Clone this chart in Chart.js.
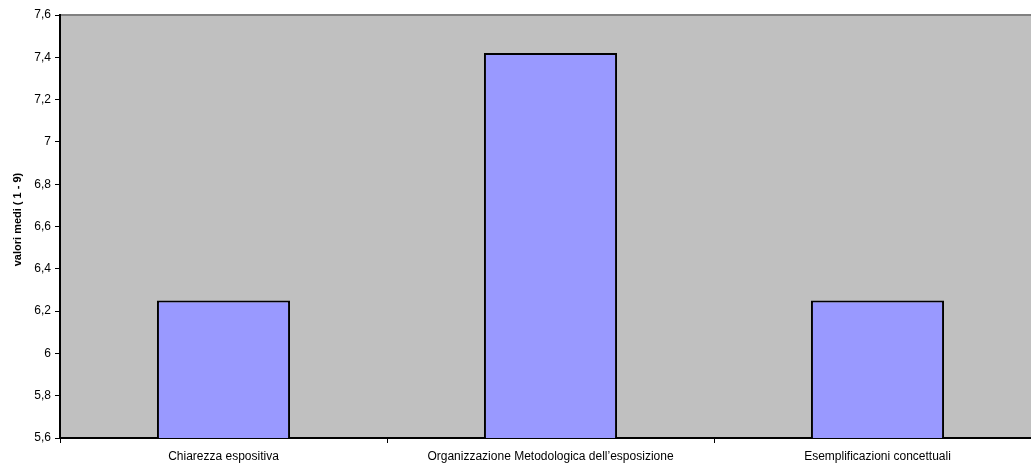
<!DOCTYPE html>
<html><head><meta charset="utf-8">
<script src="https://cdn.jsdelivr.net/npm/chart.js@4"></script>
<style>html,body{margin:0;padding:0;overflow:hidden;background:#fff;width:1031px;height:468px}canvas{display:block}</style>
</head><body>
<canvas id="c" width="1041" height="468" style="width:1041px;height:468px"></canvas>
<script>
const categories = ['Chiarezza espositiva', 'Organizzazione Metodologica dell\u2019esposizione', 'Esemplificazioni concettuali'];
const values = [6.25, 7.42, 6.25];
const yTickValues = [5.6, 5.8, 6.0, 6.2, 6.4, 6.6, 6.8, 7.0, 7.2, 7.4, 7.6];
const yTickLabels = ['5,6', '5,8', '6', '6,2', '6,4', '6,6', '6,8', '7', '7,2', '7,4', '7,6'];
const yTitle = 'valori medi ( 1 - 9)';

const bgPlugin = {
  id: 'bg',
  beforeDraw(chart) {
    const {ctx, chartArea: a} = chart;
    ctx.save();
    ctx.fillStyle = '#C0C0C0';
    ctx.fillRect(a.left, a.top, a.right - a.left, a.bottom - a.top);
    ctx.strokeStyle = '#808080';
    ctx.lineWidth = 2;
    ctx.beginPath();
    ctx.moveTo(a.left, a.top);
    ctx.lineTo(a.right, a.top);
    ctx.moveTo(a.right, a.top);
    ctx.lineTo(a.right, a.bottom);
    ctx.stroke();
    ctx.restore();
  },
  afterDraw(chart) {
    const {ctx, chartArea: a} = chart;
    ctx.save();
    ctx.translate(18, (a.top + a.bottom) / 2 - 7);
    ctx.rotate(-Math.PI / 2);
    ctx.fillStyle = '#000';
    ctx.font = 'bold 11px "Liberation Sans", Arial, sans-serif';
    ctx.textAlign = 'center';
    ctx.textBaseline = 'middle';
    ctx.fillText(yTitle, 0, 0);
    ctx.restore();
  }
};

const font12 = {family: '"Liberation Sans", Arial, sans-serif', size: 12};

new Chart(document.getElementById('c'), {
  type: 'bar',
  data: {
    labels: categories,
    datasets: [{
      data: values,
      backgroundColor: '#9999FF',
      borderColor: '#000000',
      borderWidth: 2,
      barPercentage: 0.407,
      categoryPercentage: 1.0,
      borderSkipped: false
    }]
  },
  options: {
    responsive: false,
    animation: false,
    layout: {padding: {top: 15, left: 0, right: 0, bottom: 0}},
    plugins: {legend: {display: false}, tooltip: {enabled: false}},
    scales: {
      x: {
        grid: {display: true, drawOnChartArea: false, drawTicks: true, tickLength: 5, color: '#000', offset: true},
        border: {display: true, color: '#000', width: 2},
        ticks: {color: '#000', font: font12, padding: 6, maxRotation: 0, autoSkip: false},
        afterFit(s) { s.height = 30; }
      },
      y: {
        min: 5.6, max: 7.6,
        afterBuildTicks(s) { s.ticks = yTickValues.map(v => ({value: v})); },
        grid: {display: true, drawOnChartArea: false, drawTicks: true, tickLength: 5, color: '#000'},
        border: {display: true, color: '#000', width: 2},
        ticks: {
          color: '#000', font: font12, padding: 4,
          callback(v) { const i = yTickValues.findIndex(t => Math.abs(t - v) < 1e-6); return i >= 0 ? yTickLabels[i] : ''; }
        },
        afterFit(s) { s.width = 60; }
      }
    }
  },
  plugins: [bgPlugin]
});
</script>
</body></html>
